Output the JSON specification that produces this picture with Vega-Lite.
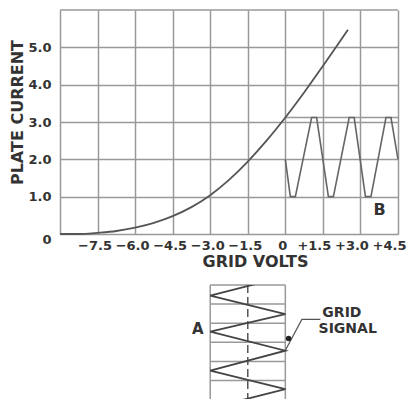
{
  "$schema": "https://vega.github.io/schema/vega-lite/v6.json",
  "background": "white",
  "padding": {"left": 9, "top": 9, "right": 0, "bottom": 0},
  "config": {"view": {"stroke": null}, "font": "DejaVu Sans"},
  "datasets": {
    "curve": [
      {"v": -9, "i": 0}, {"v": -8.5, "i": 0}, {"v": -8, "i": 0.005}, {"v": -7.5, "i": 0.03},
      {"v": -6.75, "i": 0.08}, {"v": -6, "i": 0.17}, {"v": -5.25, "i": 0.3}, {"v": -4.5, "i": 0.48},
      {"v": -3.75, "i": 0.72}, {"v": -3, "i": 1.04}, {"v": -2.25, "i": 1.45}, {"v": -1.5, "i": 1.94},
      {"v": -0.75, "i": 2.5}, {"v": 0, "i": 3.12}, {"v": 0.75, "i": 3.79},
      {"v": 1.5, "i": 4.5}, {"v": 2, "i": 4.98}, {"v": 2.5, "i": 5.47}
    ],
    "wave": [
      {"v": 0, "i": 2.0}, {"v": 0.2, "i": 1.0}, {"v": 0.4, "i": 1.0}, {"v": 1.05, "i": 3.12},
      {"v": 1.25, "i": 3.12}, {"v": 1.72, "i": 1.0}, {"v": 1.92, "i": 1.0}, {"v": 2.55, "i": 3.12},
      {"v": 2.75, "i": 3.12}, {"v": 3.2, "i": 1.0}, {"v": 3.42, "i": 1.0}, {"v": 4.02, "i": 3.12},
      {"v": 4.22, "i": 3.12}, {"v": 4.5, "i": 2.0}
    ],
    "hrules": [
      {"v": -9, "v2": 4.5, "i": 6},
      {"v": 0, "v2": 4.5, "i": 3.12}
    ],
    "blabel": [{"v": 3.76, "i": 0.65, "label": "B"}],
    "hgrid": [
      {"v": -3, "v2": 0, "t": 0}, {"v": -3, "v2": 0, "t": 1}, {"v": -3, "v2": 0, "t": 2},
      {"v": -3, "v2": 0, "t": 3}, {"v": -3, "v2": 0, "t": 4}, {"v": -3, "v2": 0, "t": 5}
    ],
    "vgrid": [{"v": -3, "t": 0, "t2": 5.97}, {"v": 0, "t": 0, "t2": 5.97}],
    "dash": [{"v": -1.5, "t": 0, "t2": 5.97}],
    "zig": [
      {"k": 0, "v": 0, "t": -0.45}, {"k": 1, "v": -3, "t": 0.56}, {"k": 2, "v": 0, "t": 1.53},
      {"k": 3, "v": -3, "t": 2.44}, {"k": 4, "v": 0, "t": 3.44}, {"k": 5, "v": -3, "t": 4.48},
      {"k": 6, "v": 0, "t": 5.45}, {"k": 7, "v": -3, "t": 6.45}
    ],
    "leader": [{"k": 0, "v": 1.4, "t": 1.8}, {"k": 1, "v": 0.66, "t": 1.8}, {"k": 2, "v": 0.01, "t": 3.4}],
    "dot": [{"v": 0.13, "t": 2.8}],
    "alabels": [
      {"v": -3.5, "t": 2.3, "label": "A", "size": 15},
      {"v": 2.26, "t": 1.45, "label": "GRID", "size": 14},
      {"v": 2.49, "t": 2.28, "label": "SIGNAL", "size": 14}
    ]
  },
  "bounds": "flush",
  "spacing": 51,
  "resolve": {"scale": {"x": "independent", "y": "independent"}},
  "vconcat": [
    {
      "width": 338,
      "height": 224,
      "encoding": {
        "x": {
          "field": "v", "type": "quantitative",
          "scale": {"domain": [-9, 4.5], "nice": false, "zero": false},
          "axis": {
            "values": [-9, -7.5, -6, -4.5, -3, -1.5, 0, 1.5, 3, 4.5],
            "labelExpr": "datum.value == -9 ? '' : datum.value == 0 ? '0' : (datum.value > 0 ? '+' : '') + format(datum.value, '.1f')",
            "domain": false, "ticks": false, "tickSize": 0,
            "grid": true, "gridColor": "#999", "gridWidth": 1.5, "gridOpacity": 1,
            "labelFont": "DejaVu Sans", "labelFontWeight": "bold", "labelFontSize": 13, "labelColor": "#333",
            "labelPadding": 5, "labelFlush": false, "labelOverlap": false, "labelBound": false,
            "labelOffset": {"condition": {"test": "datum.value > 0", "value": -9}, "value": -3},
            "title": "GRID VOLTS", "titleFont": "DejaVu Sans", "titleFontSize": 16, "titleFontWeight": "bold",
            "titleColor": "#333", "titleX": 195, "titleY": 27, "titleAlign": "center", "titleBaseline": "middle"
          }
        },
        "y": {
          "field": "i", "type": "quantitative",
          "scale": {"domain": [0, 6], "nice": false, "zero": false},
          "axis": {
            "values": [0, 1, 2, 3, 4, 5],
            "labelExpr": "datum.value == 0 ? '0' : format(datum.value, '.1f')",
            "domain": false, "ticks": false, "tickSize": 0,
            "grid": true, "gridColor": "#999", "gridWidth": 1.5, "gridOpacity": 1,
            "labelFont": "DejaVu Sans", "labelFontWeight": "bold", "labelFontSize": 13, "labelColor": "#333",
            "labelPadding": 9, "labelFlush": false, "labelOverlap": false, "labelBound": false,
            "labelOffset": {"condition": {"test": "datum.value == 0", "value": 5}, "value": 0},
            "title": "PLATE CURRENT", "titleFont": "DejaVu Sans", "titleFontSize": 16, "titleFontWeight": "bold",
            "titleColor": "#333", "titleX": -43, "titleY": 102, "titleAlign": "center", "titleBaseline": "middle", "titleAngle": 270
          }
        }
      },
      "layer": [
        {"data": {"name": "hrules"}, "mark": {"type": "rule", "color": "#999", "strokeWidth": 1.5}, "encoding": {"x2": {"field": "v2"}}},
        {"data": {"name": "wave"}, "mark": {"type": "line", "color": "#666", "strokeWidth": 1.6}},
        {"data": {"name": "curve"}, "mark": {"type": "line", "interpolate": "monotone", "color": "#555", "strokeWidth": 1.8}},
        {"data": {"name": "blabel"}, "mark": {"type": "text", "font": "DejaVu Sans", "fontWeight": "bold", "fontSize": 16, "color": "#333", "align": "center", "baseline": "middle"}, "encoding": {"text": {"field": "label"}}}
      ]
    },
    {
      "width": 338,
      "height": 114,
      "encoding": {
        "x": {"field": "v", "type": "quantitative", "scale": {"domain": [-9, 4.5], "nice": false, "zero": false}, "axis": null},
        "y": {"field": "t", "type": "quantitative", "scale": {"domain": [0, 5.97], "nice": false, "zero": false, "reverse": true}, "axis": null}
      },
      "layer": [
        {"data": {"name": "hgrid"}, "mark": {"type": "rule", "color": "#999", "strokeWidth": 1.5}, "encoding": {"x2": {"field": "v2"}}},
        {"data": {"name": "vgrid"}, "mark": {"type": "rule", "color": "#999", "strokeWidth": 1.5}, "encoding": {"y2": {"field": "t2"}}},
        {"data": {"name": "dash"}, "mark": {"type": "rule", "color": "#555", "strokeWidth": 1.5, "strokeDash": [8, 4]}, "encoding": {"y2": {"field": "t2"}}},
        {"data": {"name": "zig"}, "mark": {"type": "line", "color": "#444", "strokeWidth": 1.8, "clip": true}, "encoding": {"order": {"field": "k"}}},
        {"data": {"name": "leader"}, "mark": {"type": "line", "color": "#555", "strokeWidth": 1.2}, "encoding": {"order": {"field": "k"}}},
        {"data": {"name": "dot"}, "mark": {"type": "point", "filled": true, "color": "#222", "size": 30, "opacity": 1}},
        {"data": {"name": "alabels"}, "mark": {"type": "text", "font": "DejaVu Sans", "fontWeight": "bold", "color": "#333", "align": "center", "baseline": "middle"}, "encoding": {"text": {"field": "label"}, "size": {"field": "size", "type": "quantitative", "scale": null}}}
      ]
    }
  ]
}
